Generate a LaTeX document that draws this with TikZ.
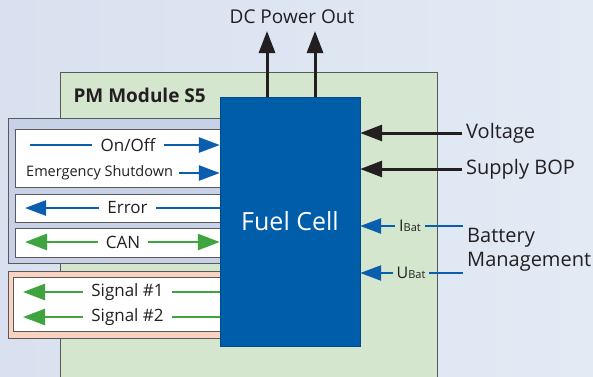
\documentclass[tikz,border=0pt]{standalone}
\usepackage{fontspec}
\setmainfont{Open Sans}
\usepackage{xcolor}
\usetikzlibrary{arrows.meta,positioning,calc}

\definecolor{skyleft}{HTML}{D9E1F0}
\definecolor{skyright}{HTML}{E2EAF4}
\definecolor{modgreen}{HTML}{D5E6CE}
\definecolor{lavender}{HTML}{C7D1E8}
\definecolor{peach}{HTML}{F9D2C2}
\definecolor{fcblue}{HTML}{005DAA}
\definecolor{sigblue}{HTML}{0B5EAD}
\definecolor{siggreen}{HTML}{3FA33F}
\definecolor{inkgray}{HTML}{231F20}

\begin{document}
\begin{tikzpicture}[x=1pt, y=-1pt, font=\fontsize{17}{20}\selectfont, text=inkgray,
    panel/.style={draw=black!65, line width=0.9pt, anchor=north west, inner sep=0pt},
    lbl/.style={inner xsep=8pt, inner ysep=0pt},
    bline/.style={draw=sigblue, line width=2.6pt},
    barrow/.style={bline, -{Triangle[length=21pt, width=15pt]}},
    gline/.style={draw=siggreen, line width=2.6pt},
    garrow/.style={gline, -{Triangle[length=22pt, width=16pt]}},
    karrow/.style={draw=inkgray, line width=3pt, -{Triangle[length=22pt, width=16pt]}}]
  \clip (0,0) rectangle (593,376);
  \shade[left color=skyleft, right color=skyright] (0,0) rectangle (593,376);

  % module and side panels
  \node[panel, fill=modgreen, minimum width=377, minimum height=320] (module) at (60,72) {};
  \node[anchor=west, font=\fontsize{19}{22}\selectfont\bfseries] (modname) at (70,95) {PM Module S5};
  \node[panel, fill=lavender, minimum width=225, minimum height=145] (ctrl) at (8,118) {};
  \node[panel, fill=white, minimum width=215, minimum height=58] (cmdbox) at (15,129) {};
  \node[panel, fill=white, minimum width=215, minimum height=28] (errbox) at (15,194) {};
  \node[panel, fill=white, minimum width=215, minimum height=29] (canbox) at (15,228) {};
  \node[panel, fill=peach, minimum width=225, minimum height=67] (sigpanel) at (8,271) {};
  \node[panel, fill=white, minimum width=215, minimum height=54] (sigbox) at (13,277) {};

  \node[draw=fcblue!80!black, fill=fcblue, minimum width=140, minimum height=249,
        text=white, font=\fontsize{25}{30}\selectfont] (fc) at (290,221.5) {Fuel Cell};

  % left side signals
  \node[lbl] (onoff) at (128,145) {On/Off};
  \coordinate (onoffS) at (30,145);
  \draw[bline] (onoffS) -- (onoff.west);
  \draw[barrow] (onoff.east) -- (onoff.east -| fc.west);

  \node[lbl, anchor=west, inner xsep=0pt, font=\fontsize{14.5}{17}\selectfont] (emstop) at (26,173) {Emergency Shutdown};
  \draw[barrow] ([xshift=6pt]emstop.east) -- (emstop.east -| fc.west);

  \node[lbl] (err) at (127.5,208) {Error};
  \coordinate (errT) at (25,208);
  \draw[barrow] (err.west) -- (errT);
  \draw[bline] (err.east) -- (err.east -| fc.west);

  \node[lbl] (can) at (123,242) {CAN};
  \coordinate (canT) at (25,242);
  \draw[garrow] (can.west) -- (canT);
  \draw[garrow] (can.east) -- (can.east -| fc.west);

  \foreach \n/\y in {1/292,2/317} {
    \node[lbl] (sig\n) at (127.5,\y) {Signal \#\n};
    \coordinate (sigT\n) at (23,\y);
    \draw[garrow] (sig\n.west) -- (sigT\n);
    \draw[gline] (sig\n.east) -- (sig\n.east -| fc.west);
  }

  % right side inputs
  \node[anchor=west, inner xsep=4pt, font=\fontsize{20}{24}\selectfont] (volt) at (462,133) {Voltage};
  \draw[karrow] (volt.west) -- (volt.west -| fc.east);
  \node[anchor=west, inner xsep=4pt, font=\fontsize{20}{24}\selectfont] (bop) at (462,169) {Supply BOP};
  \draw[karrow] (bop.west) -- (bop.west -| fc.east);

  \node[lbl, inner xsep=4pt] (ibat) at (410,226)
    {\fontsize{16}{18}\selectfont I\fontsize{11}{13}\selectfont Bat};
  \coordinate (ibatS) at (463,226);
  \draw[barrow] (ibat.west) -- (ibat.west -| fc.east);
  \draw[bline] (ibatS) -- (ibat.east);
  \node[lbl, inner xsep=3pt] (ubat) at (411,273)
    {\fontsize{16}{18}\selectfont U\fontsize{11}{13}\selectfont Bat};
  \coordinate (ubatS) at (463,273);
  \draw[barrow] (ubat.west) -- (ubat.west -| fc.east);
  \draw[bline] (ubatS) -- (ubat.east);
  \node[anchor=west, align=left, inner sep=0pt, font=\fontsize{20}{24}\selectfont] (batt) at (467,250) {Battery\\Management};

  % power output
  \node[font=\fontsize{19}{22}\selectfont] (dcout) at (292,17) {DC Power Out};
  \coordinate (dcA) at (267,31);
  \coordinate (dcB) at (315,31);
  \draw[karrow] (fc.north -| dcA) -- (dcA);
  \draw[karrow] (fc.north -| dcB) -- (dcB);
\end{tikzpicture}
\end{document}
